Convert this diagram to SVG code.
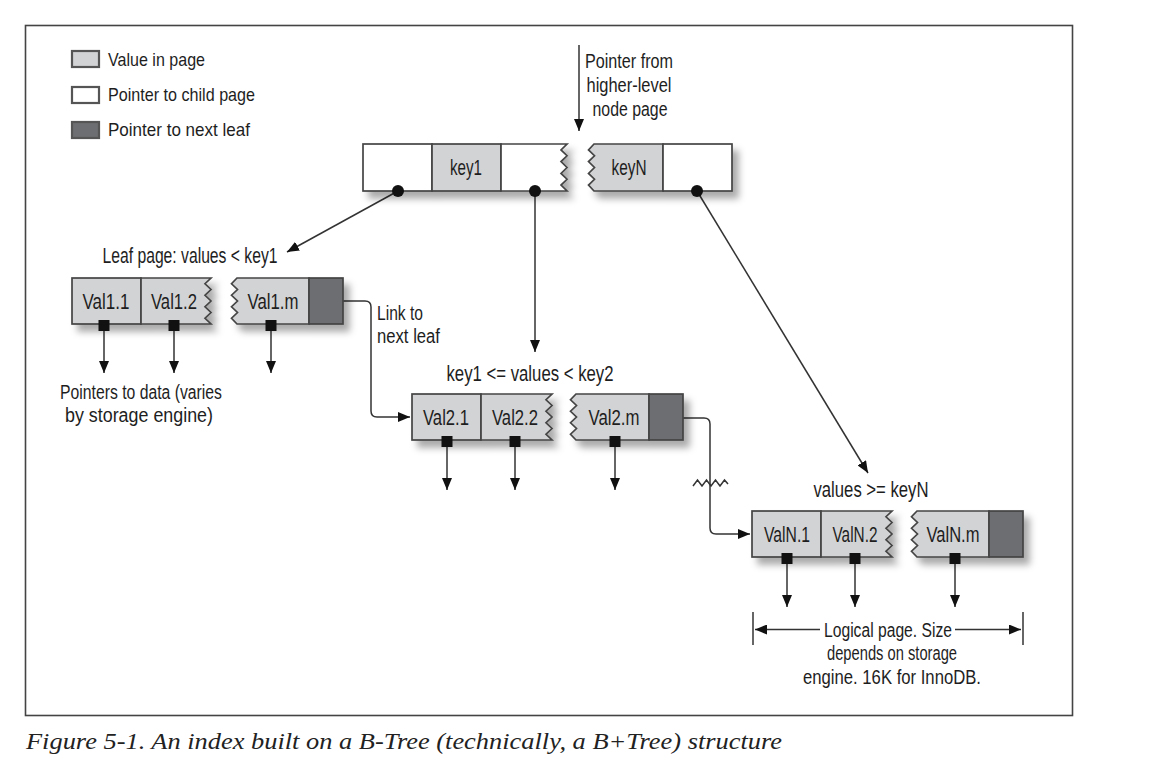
<svg xmlns="http://www.w3.org/2000/svg" width="1168" height="776" viewBox="0 0 1168 776">
<defs>
<style>
.w{fill:#ffffff;stroke:#444;stroke-width:1.7}
.v{fill:#d2d3d4;stroke:#444;stroke-width:1.7}
.d{fill:#6d6e71;stroke:#444;stroke-width:1.7}
.lg{stroke:#555;stroke-width:2.2}
.t{font-family:"Liberation Sans",Arial,sans-serif;font-size:22px;fill:#1e1e1e}
.t2{font-family:"Liberation Sans",Arial,sans-serif;font-size:20px;fill:#1e1e1e}
.ts{font-family:"Liberation Sans",Arial,sans-serif;font-size:19px;fill:#1e1e1e}
.m{text-anchor:middle}
.cap{font-family:"Liberation Serif","Times New Roman",serif;font-style:italic;font-size:24px;fill:#222}
.ln{fill:none;stroke:#333;stroke-width:1.5}
.dot{fill:#111}
.sq{fill:#111}
</style>
<marker id="ah" markerUnits="userSpaceOnUse" markerWidth="12" markerHeight="10" refX="12" refY="5" orient="auto">
<path d="M0,0 L12,5 L0,10 Z" fill="#111"/>
</marker>
<filter id="sh" x="-10%" y="-30%" width="130%" height="180%">
<feGaussianBlur in="SourceAlpha" stdDeviation="3.5"/>
<feOffset dx="6" dy="7" result="b"/>
<feFlood flood-color="#000" flood-opacity="0.33"/>
<feComposite in2="b" operator="in"/>
<feMerge><feMergeNode/><feMergeNode in="SourceGraphic"/></feMerge>
</filter>
</defs>

<rect x="25.5" y="25.5" width="1047" height="690" fill="#fff" stroke="#444" stroke-width="1.6"/>

<g id="legend">
<rect class="v lg" x="72" y="51" width="27" height="16"/>
<rect class="w lg" x="72" y="87" width="27" height="16"/>
<rect class="d lg" x="72" y="122" width="27" height="16"/>
<text class="ts" x="108" y="66" textLength="97" lengthAdjust="spacingAndGlyphs">Value in page</text>
<text class="ts" x="108" y="101" textLength="147" lengthAdjust="spacingAndGlyphs">Pointer to child page</text>
<text class="ts" x="108" y="136" textLength="142" lengthAdjust="spacingAndGlyphs">Pointer to next leaf</text>
</g>

<g id="connectors">
<line class="ln" x1="579" y1="45" x2="579" y2="131" marker-end="url(#ah)"/>
<line class="ln" x1="398" y1="191" x2="287" y2="252" marker-end="url(#ah)"/>
<line class="ln" x1="535" y1="191" x2="535" y2="352" marker-end="url(#ah)"/>
<line class="ln" x1="697" y1="191" x2="868" y2="473" marker-end="url(#ah)"/>
<line class="ln" x1="104" y1="331" x2="104" y2="373" marker-end="url(#ah)"/>
<line class="ln" x1="174" y1="331" x2="174" y2="373" marker-end="url(#ah)"/>
<line class="ln" x1="271" y1="331" x2="271" y2="373" marker-end="url(#ah)"/>
<line class="ln" x1="447" y1="447" x2="447" y2="490" marker-end="url(#ah)"/>
<line class="ln" x1="515" y1="447" x2="515" y2="490" marker-end="url(#ah)"/>
<line class="ln" x1="615" y1="447" x2="615" y2="490" marker-end="url(#ah)"/>
<line class="ln" x1="787" y1="564" x2="787" y2="607" marker-end="url(#ah)"/>
<line class="ln" x1="855" y1="564" x2="855" y2="607" marker-end="url(#ah)"/>
<line class="ln" x1="955" y1="564" x2="955" y2="607" marker-end="url(#ah)"/>
<path class="ln" d="M343,301 H365 Q371,301 371,307 V411 Q371,417 377,417 H410" marker-end="url(#ah)"/>
<path class="ln" d="M683,418 H704 Q710,418 710,424 V528 Q710,534 716,534 H750" marker-end="url(#ah)"/>
<polyline class="ln" points="693,486 697.5,480 702,486 706.5,480 711,486 715.5,480 720,486 724.5,480 728,484"/>
<line class="ln" x1="753" y1="612" x2="753" y2="645"/>
<line class="ln" x1="1023" y1="612" x2="1023" y2="645"/>
<line class="ln" x1="820" y1="629.5" x2="755" y2="629.5" marker-end="url(#ah)"/>
<line class="ln" x1="955" y1="629.5" x2="1021" y2="629.5" marker-end="url(#ah)"/>
</g>

<g id="labels">
<text class="t2" x="629" y="68" text-anchor="middle" textLength="88" lengthAdjust="spacingAndGlyphs">Pointer from</text>
<text class="t2" x="629" y="92" text-anchor="middle" textLength="85" lengthAdjust="spacingAndGlyphs">higher-level</text>
<text class="t2" x="630" y="116" text-anchor="middle" textLength="75" lengthAdjust="spacingAndGlyphs">node page</text>
<text class="t m" x="190" y="263" textLength="175" lengthAdjust="spacingAndGlyphs">Leaf page: values &lt; key1</text>
<text class="t2" x="377" y="320" textLength="46" lengthAdjust="spacingAndGlyphs">Link to</text>
<text class="t2" x="377" y="343" textLength="63" lengthAdjust="spacingAndGlyphs">next leaf</text>
<text class="t2" x="141" y="399" text-anchor="middle" textLength="162" lengthAdjust="spacingAndGlyphs">Pointers to data (varies</text>
<text class="t2" x="139" y="422" text-anchor="middle" textLength="148" lengthAdjust="spacingAndGlyphs">by storage engine)</text>
<text class="t m" x="530" y="381" textLength="167" lengthAdjust="spacingAndGlyphs">key1 &lt;= values &lt; key2</text>
<text class="t m" x="871" y="497" textLength="115" lengthAdjust="spacingAndGlyphs">values &gt;= keyN</text>
<text class="t2" x="888" y="637" text-anchor="middle" textLength="128" lengthAdjust="spacingAndGlyphs">Logical page. Size</text>
<text class="t2" x="892" y="660" text-anchor="middle" textLength="130" lengthAdjust="spacingAndGlyphs">depends on storage</text>
<text class="t2" x="892" y="684" text-anchor="middle" textLength="178" lengthAdjust="spacingAndGlyphs">engine.  16K for InnoDB.</text>
</g>

<g id="root">
<g filter="url(#sh)">
<rect class="w" x="363" y="144" width="69" height="47"/>
<rect class="v" x="432" y="144" width="69" height="47"/>
<path class="w" d="M501,144 H567 L561,149.9 L567,155.75 L561,161.6 L567,167.5 L561,173.4 L567,179.25 L561,185.1 L567,191 H501 Z"/>
<path class="v" d="M594,144 H663 V191 H594 L588.5,185.1 L594.5,179.25 L588.5,173.4 L594.5,167.5 L588.5,161.6 L594.5,155.75 L588.5,149.9 Z"/>
<rect class="w" x="663" y="144" width="69" height="47"/>
</g>
<text class="t m" x="466" y="175" textLength="32" lengthAdjust="spacingAndGlyphs">key1</text>
<text class="t m" x="629" y="175" textLength="35" lengthAdjust="spacingAndGlyphs">keyN</text>
<circle class="dot" cx="398" cy="191" r="6"/>
<circle class="dot" cx="535" cy="191" r="6"/>
<circle class="dot" cx="697" cy="191" r="6"/>
</g>

<g id="leaf1">
<g filter="url(#sh)">
<rect class="v" x="72" y="278" width="69" height="46"/>
<path class="v" d="M141,278 H211 L205,283.75 L211,289.5 L205,295.25 L211,301 L205,306.75 L211,312.5 L205,318.25 L211,324 H141 Z"/>
<path class="v" d="M237,278 H309 V324 H237 L231.5,318.25 L237.5,312.5 L231.5,306.75 L237.5,301 L231.5,295.25 L237.5,289.5 L231.5,283.75 Z"/>
<rect class="d" x="309" y="278" width="34" height="46"/>
</g>
<text class="t m" x="106" y="309" textLength="47" lengthAdjust="spacingAndGlyphs">Val1.1</text>
<text class="t m" x="174" y="309" textLength="46" lengthAdjust="spacingAndGlyphs">Val1.2</text>
<text class="t m" x="273" y="309" textLength="51" lengthAdjust="spacingAndGlyphs">Val1.m</text>
<rect class="sq" x="98.5" y="320" width="11" height="11"/>
<rect class="sq" x="168.5" y="320" width="11" height="11"/>
<rect class="sq" x="265.5" y="320" width="11" height="11"/>
</g>

<g id="leaf2">
<g filter="url(#sh)">
<rect class="v" x="412" y="394" width="69" height="46"/>
<path class="v" d="M481,394 H552 L546,399.75 L552,405.5 L546,411.25 L552,417 L546,422.75 L552,428.5 L546,434.25 L552,440 H481 Z"/>
<path class="v" d="M576,394 H649 V440 H576 L570.5,434.25 L576.5,428.5 L570.5,422.75 L576.5,417 L570.5,411.25 L576.5,405.5 L570.5,399.75 Z"/>
<rect class="d" x="649" y="394" width="34" height="46"/>
</g>
<text class="t m" x="446" y="425" textLength="46" lengthAdjust="spacingAndGlyphs">Val2.1</text>
<text class="t m" x="515" y="425" textLength="46" lengthAdjust="spacingAndGlyphs">Val2.2</text>
<text class="t m" x="614" y="425" textLength="51" lengthAdjust="spacingAndGlyphs">Val2.m</text>
<rect class="sq" x="441.5" y="436" width="11" height="11"/>
<rect class="sq" x="509.5" y="436" width="11" height="11"/>
<rect class="sq" x="609.5" y="436" width="11" height="11"/>
</g>

<g id="leafN">
<g filter="url(#sh)">
<rect class="v" x="752" y="511" width="69" height="46"/>
<path class="v" d="M821,511 H892 L886,516.75 L892,522.5 L886,528.25 L892,534 L886,539.75 L892,545.5 L886,551.25 L892,557 H821 Z"/>
<path class="v" d="M917,511 H989 V557 H917 L911.5,551.25 L917.5,545.5 L911.5,539.75 L917.5,534 L911.5,528.25 L917.5,522.5 L911.5,516.75 Z"/>
<rect class="d" x="989" y="511" width="34" height="46"/>
</g>
<text class="t m" x="787" y="542" textLength="46" lengthAdjust="spacingAndGlyphs">ValN.1</text>
<text class="t m" x="855" y="542" textLength="45" lengthAdjust="spacingAndGlyphs">ValN.2</text>
<text class="t m" x="953" y="542" textLength="53" lengthAdjust="spacingAndGlyphs">ValN.m</text>
<rect class="sq" x="781.5" y="553" width="11" height="11"/>
<rect class="sq" x="849.5" y="553" width="11" height="11"/>
<rect class="sq" x="949.5" y="553" width="11" height="11"/>
</g>

<text class="cap" x="26" y="749" textLength="756" lengthAdjust="spacingAndGlyphs">Figure 5-1. An index built on a B-Tree (technically, a B+Tree) structure</text>
</svg>
